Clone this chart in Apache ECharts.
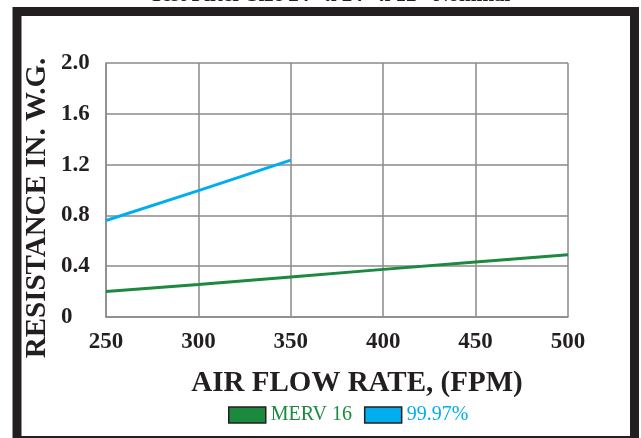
<!DOCTYPE html>
<html>
<head>
<meta charset="utf-8">
<script src="https://cdn.jsdelivr.net/npm/echarts@6/dist/echarts.min.js"></script>
<style>html,body{margin:0;padding:0;background:#fff}#c{width:641px;height:438px}</style>
</head>
<body>
<div id="c"></div>
<script>
const titleText = 'Test Filter Size 24" x 24" x 12" Nominal';
const xTicks = [250, 300, 350, 400, 450, 500];
const mervX = [250, 300, 350, 400, 450, 500];
const mervY = [0.20, 0.255, 0.315, 0.375, 0.433, 0.49];
const hepaX = [250, 300, 350];
const hepaY = [0.76, 0.995, 1.235];
const seriesNames = ['MERV 16', '99.97%'];
const colors = ['#1b8a3f', '#00aeef'];

const serif = '"Liberation Serif", "Times New Roman", serif';
const chart = echarts.init(document.getElementById('c'), null, {renderer: 'canvas'});
chart.setOption({
  animation: false,
  backgroundColor: '#fff',
  grid: {left: 106, top: 63, width: 462, height: 254, containLabel: false},
  xAxis: {
    type: 'value', min: xTicks[0], max: xTicks[xTicks.length - 1], interval: 50,
    axisLine: {show: true, lineStyle: {color: '#8a8a8a', width: 1.5}},
    axisTick: {show: false},
    splitLine: {show: true, lineStyle: {color: '#8a8a8a', width: 1.5}},
    axisLabel: {margin: 14, fontFamily: serif, fontWeight: 'bold', fontSize: 23, color: '#231f20'},
    name: 'AIR FLOW RATE, (FPM)', nameLocation: 'middle', nameGap: 52,
    nameTextStyle: {fontFamily: serif, fontWeight: 'bold', fontSize: 29, color: '#231f20', padding: [0, 0, 0, 40]}
  },
  yAxis: {
    type: 'value', min: 0, max: 2, interval: 0.4,
    axisLine: {show: true, lineStyle: {color: '#8a8a8a', width: 1.5}},
    axisTick: {show: false},
    splitLine: {show: true, lineStyle: {color: '#8a8a8a', width: 1.5}},
    axisLabel: {margin: 45, align: 'left', fontFamily: serif, fontWeight: 'bold', fontSize: 23, color: '#231f20',
      formatter: v => v === 0 ? '0' : v.toFixed(1)}
  },
  legend: {
    top: 405, left: 228, padding: 0, icon: 'rect', itemWidth: 37, itemHeight: 16, itemGap: 12,
    itemStyle: {borderColor: '#231f20', borderWidth: 1.5},
    data: [
      {name: seriesNames[0], textStyle: {color: colors[0]}},
      {name: seriesNames[1], textStyle: {color: colors[1]}}
    ],
    textStyle: {fontFamily: serif, fontSize: 20, lineHeight: 20}
  },
  graphic: [
    {type: 'rect', shape: {x: 17, y: 11.5, width: 617.5, height: 429}, style: {fill: 'none', stroke: '#231f20', lineWidth: 9}, z: 10},
    {type: 'text', x: 330, y: 6, style: {text: titleText, fontFamily: serif, fontWeight: 'bold', fontSize: 21, fill: '#231f20', align: 'center', verticalAlign: 'bottom'}},
    {type: 'text', x: 38, y: 208, rotation: Math.PI / 2, style: {text: 'RESISTANCE IN. W.G.', fontFamily: serif, fontWeight: 'bold', fontSize: 29, fill: '#231f20', align: 'center', verticalAlign: 'middle'}}
  ],
  series: [
    {name: seriesNames[0], type: 'line', data: mervX.map((x, i) => [x, mervY[i]]), showSymbol: false, symbol: 'none',
      lineStyle: {color: colors[0], width: 3}, itemStyle: {color: colors[0]}},
    {name: seriesNames[1], type: 'line', data: hepaX.map((x, i) => [x, hepaY[i]]), showSymbol: false, symbol: 'none',
      lineStyle: {color: colors[1], width: 3}, itemStyle: {color: colors[1]}}
  ]
});
</script>
</body>
</html>
